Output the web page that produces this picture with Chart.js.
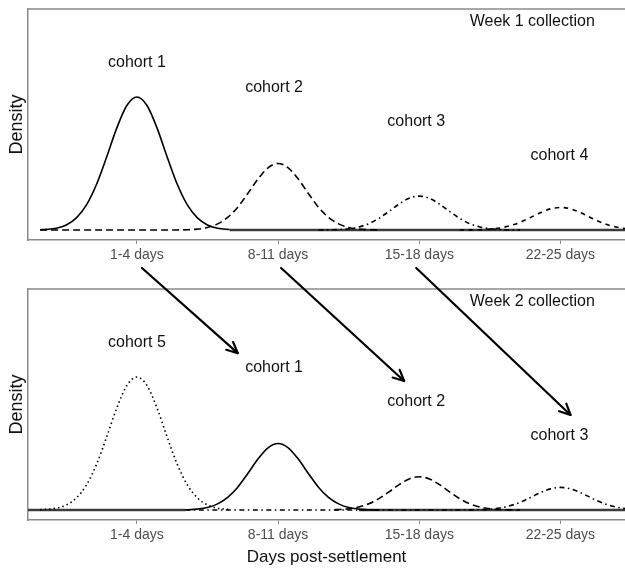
<!DOCTYPE html>
<html>
<head>
<meta charset="utf-8">
<script src="https://cdn.jsdelivr.net/npm/chart.js@4"></script>
<style>
html,body{margin:0;padding:0;background:#fff;}
#wrap{position:relative;width:625px;height:571px;overflow:hidden;background:#fff;}
canvas{position:absolute;left:0;}
#c1{top:0;}
#c2{top:245px;}
</style>
</head>
<body>
<div id="wrap">
<canvas id="c1" width="625" height="280"></canvas>
<canvas id="c2" width="625" height="326"></canvas>
</div>
<script>
// ---------- axis ----------
const xMin = -2.9, xMax = 26.7;
const yMin = -0.075, yMax = 1.662;
const tickValues = [2.5, 9.5, 16.5, 23.5];
const tickLabels = ['1-4 days', '8-11 days', '15-18 days', '22-25 days'];

// ---------- Week 1 collection ----------
const w1c1X = [-2.3,-2,-1.5,-1,-0.5,0,0.5,1,1.5,2,2.5,3,3.5,4,4.5,5,5.5,6,6.5,7,7.1];
const w1c1Y = [0.002,0.005,0.014,0.038,0.091,0.189,0.344,0.549,0.766,0.936,1.0,0.936,0.766,0.549,0.344,0.189,0.091,0.038,0.014,0.005,0.004];
const w1c2X = [-2.3,4.5,5,5.5,6,6.5,7,7.5,8,8.5,9,9.5,10,10.5,11,11.5,12,12.5,13,13.5,14,14.5];
const w1c2Y = [0,0.0007,0.0023,0.007,0.019,0.046,0.095,0.172,0.275,0.383,0.468,0.5,0.468,0.383,0.275,0.172,0.095,0.046,0.019,0.007,0.0023,0.0007];
const w1c3X = [11.5,12,12.5,13,13.5,14,14.5,15,15.5,16,16.5,17,17.5,18,18.5,19,19.5,20,20.5,21,21.5];
const w1c3Y = [0.0003,0.0011,0.0036,0.0097,0.023,0.048,0.088,0.14,0.195,0.239,0.255,0.239,0.195,0.14,0.088,0.048,0.023,0.0097,0.0036,0.0011,0.0003];
const w1c4X = [18.5,19,19.5,20,20.5,21,21.5,22,22.5,23,23.5,24,24.5,25,25.5,26,26.5,26.7];
const w1c4Y = [0.0002,0.0008,0.0024,0.0065,0.0155,0.032,0.058,0.093,0.13,0.159,0.17,0.159,0.13,0.093,0.058,0.032,0.0155,0.011];
const w1BaseX = [7.1, 26.7];
const w1BaseY = [0, 0];

// ---------- Week 2 collection ----------
const w2c5X = [-2.3,-2,-1.5,-1,-0.5,0,0.5,1,1.5,2,2.5,3,3.5,4,4.5,5,5.5,6,6.5,7,7.1];
const w2c5Y = [0.002,0.005,0.014,0.038,0.091,0.189,0.344,0.549,0.766,0.936,1.0,0.936,0.766,0.549,0.344,0.189,0.091,0.038,0.014,0.005,0.004];
const w2c1X = [4.9,5,5.5,6,6.5,7,7.5,8,8.5,9,9.5,10,10.5,11,11.5,12,12.5,13,13.5,14,14.5];
const w2c1Y = [0.002,0.0023,0.007,0.019,0.046,0.095,0.172,0.275,0.383,0.468,0.5,0.468,0.383,0.275,0.172,0.095,0.046,0.019,0.007,0.0023,0.0007];
const w2c2X = [12.3,12.5,13,13.5,14,14.5,15,15.5,16,16.5,17,17.5,18,18.5,19,19.5,20,20.5,21,21.5];
const w2c2Y = [0.0023,0.0035,0.0095,0.023,0.047,0.086,0.137,0.191,0.234,0.25,0.234,0.191,0.137,0.086,0.047,0.023,0.0095,0.0035,0.0011,0.0003];
const w2c3X = [4.9,18.5,19,19.5,20,20.5,21,21.5,22,22.5,23,23.5,24,24.5,25,25.5,26,26.5,26.7];
const w2c3Y = [0,0.0002,0.0008,0.0024,0.0065,0.0155,0.032,0.058,0.093,0.13,0.159,0.17,0.159,0.13,0.093,0.058,0.032,0.0155,0.011];
const w2BaseX = [-2.9, 4.9, 4.95, 13.5, 26.7];
const w2BaseY = [0, 0, null, 0, 0];

// ---------- annotations ----------
const w1Texts = ['Week 1 collection', 'cohort 1', 'cohort 2', 'cohort 3', 'cohort 4'];
const w1TextX = [22.1, 2.5, 9.3, 16.35, 23.45];
const w1TextY = [1.571, 1.256, 1.068, 0.812, 0.556];
const w2Texts = ['Week 2 collection', 'cohort 5', 'cohort 1', 'cohort 2', 'cohort 3'];
const w2TextX = [22.1, 2.5, 9.3, 16.35, 23.45];
const w2TextY = [1.571, 1.256, 1.068, 0.812, 0.556];
// arrows in week-2 panel data units (start points lie above the panel)
const arrowFromX = [2.75, 9.65, 16.35];
const arrowFromY = [1.82, 1.82, 1.82];
const arrowToX = [7.5, 15.75, 24.0];
const arrowToY = [1.18, 0.97, 0.715];

// ---------- rendering ----------
const FONT = '"Liberation Sans", Arial, Helvetica, sans-serif';
Chart.defaults.font.family = FONT;
const GRAY = '#8a8a8a';

function pts(xs, ys) { return xs.map((x, i) => ({x: x, y: ys[i]})); }
function ds(xs, ys, dash, width, color) {
  return {
    data: pts(xs, ys), borderColor: color || '#000', borderWidth: width || 1.6,
    borderDash: dash || [], pointRadius: 0, fill: false,
    cubicInterpolationMode: 'monotone', spanGaps: false
  };
}

const topBorder = {
  id: 'topBorder',
  afterDraw(chart) {
    const {ctx, chartArea: a} = chart;
    ctx.save();
    ctx.strokeStyle = GRAY; ctx.lineWidth = 1.5;
    ctx.beginPath(); ctx.moveTo(a.left - 0.75, a.top); ctx.lineTo(a.right, a.top); ctx.stroke();
    ctx.restore();
  }
};

function textPlugin(texts, xs, ys) {
  return {
    id: 'texts',
    afterDatasetsDraw(chart) {
      const {ctx, scales: {x, y}} = chart;
      ctx.save();
      ctx.font = '16px ' + FONT; ctx.fillStyle = '#111';
      ctx.textAlign = 'center'; ctx.textBaseline = 'middle';
      texts.forEach((t, i) => ctx.fillText(t, x.getPixelForValue(xs[i]), y.getPixelForValue(ys[i])));
      ctx.restore();
    }
  };
}

const arrowPlugin = {
  id: 'arrows',
  afterDraw(chart) {
    const {ctx, scales: {x, y}} = chart;
    ctx.save();
    ctx.strokeStyle = '#000'; ctx.lineWidth = 2.2; ctx.lineCap = 'round'; ctx.lineJoin = 'round';
    arrowFromX.forEach((fx, i) => {
      const x0 = x.getPixelForValue(fx), y0 = y.getPixelForValue(arrowFromY[i]);
      const x1 = x.getPixelForValue(arrowToX[i]), y1 = y.getPixelForValue(arrowToY[i]);
      const ang = Math.atan2(y1 - y0, x1 - x0), L = 12, sp = Math.PI / 7;
      ctx.beginPath(); ctx.moveTo(x0, y0); ctx.lineTo(x1, y1); ctx.stroke();
      ctx.beginPath();
      ctx.moveTo(x1 - L * Math.cos(ang - sp), y1 - L * Math.sin(ang - sp));
      ctx.lineTo(x1, y1);
      ctx.lineTo(x1 - L * Math.cos(ang + sp), y1 - L * Math.sin(ang + sp));
      ctx.stroke();
    });
    ctx.restore();
  }
};

function options(padTop, xHeight, xTitle) {
  return {
    responsive: false, animation: false,
    layout: {padding: {top: padTop, left: 0, right: 0, bottom: 0}},
    plugins: {legend: {display: false}, tooltip: {enabled: false}},
    scales: {
      x: {
        type: 'linear', min: xMin, max: xMax,
        afterBuildTicks: s => { s.ticks = tickValues.map(v => ({value: v})); },
        afterFit: s => { s.height = xHeight; },
        ticks: {autoSkip: false, maxRotation: 0, color: '#4d4d4d', font: {size: 14}, padding: 3,
                callback: (v, i) => tickLabels[i]},
        grid: {drawOnChartArea: false, drawTicks: true, tickLength: 4, color: GRAY, lineWidth: 1},
        border: {display: true, color: GRAY, width: 1.5},
        title: xTitle ? {display: true, text: xTitle, color: '#111', font: {size: 17}, padding: {top: 0, bottom: 3}} : {display: false}
      },
      y: {
        min: yMin, max: yMax,
        afterFit: s => { s.width = 28; },
        ticks: {display: false},
        grid: {display: false},
        border: {display: true, color: GRAY, width: 1.5},
        title: {display: true, text: 'Density', color: '#111', font: {size: 18}, padding: {top: 6, bottom: 0}}
      }
    }
  };
}

new Chart(document.getElementById('c1'), {
  type: 'line',
  data: {datasets: [
    ds(w1c1X, w1c1Y, [], 1.6),
    ds(w1c2X, w1c2Y, [7, 4], 1.6),
    ds(w1c3X, w1c3Y, [5, 3.5, 1.5, 3.5], 1.6),
    ds(w1c4X, w1c4Y, [4.5, 4.5], 1.6),
    ds(w1BaseX, w1BaseY, [], 2.4, '#3c3c3c')
  ]},
  options: options(9, 40, null),
  plugins: [topBorder, textPlugin(w1Texts, w1TextX, w1TextY)]
});

new Chart(document.getElementById('c2'), {
  type: 'line',
  data: {datasets: [
    ds(w2c5X, w2c5Y, [1.5, 3], 1.6),
    ds(w2c1X, w2c1Y, [], 1.6),
    ds(w2c2X, w2c2Y, [7, 4], 1.6),
    ds(w2c3X, w2c3Y, [5, 3.5, 1.5, 3.5], 1.6),
    ds(w2BaseX, w2BaseY, [], 2.4, '#3c3c3c')
  ]},
  options: options(44, 51, 'Days post-settlement'),
  plugins: [topBorder, textPlugin(w2Texts, w2TextX, w2TextY), arrowPlugin]
});
</script>
</body>
</html>
